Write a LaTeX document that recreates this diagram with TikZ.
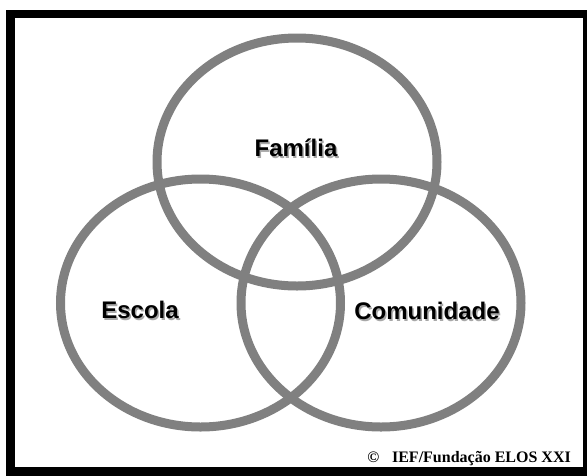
\documentclass[tikz,border=0pt]{standalone}
\usepackage{fontspec}
\setmainfont{Liberation Serif}
\newfontfamily\lsans{Liberation Sans}
\usetikzlibrary{shapes.geometric}
\definecolor{ringgray}{HTML}{808080}
\definecolor{shadowgray}{HTML}{A8A8A8}
\tikzset{
  ring/.style={draw=ringgray, line width=9pt, ellipse, minimum width=280pt, minimum height=248pt, inner sep=0pt},
  lbl/.style={font=\lsans\bfseries\fontsize{24}{28}\selectfont, text=black, inner sep=0pt},
  lblshadow/.style={font=\lsans\bfseries\fontsize{24}{28}\selectfont, text=shadowgray, inner sep=0pt},
  credit/.style={font=\bfseries\fontsize{16}{19}\selectfont, inner sep=0pt, anchor=base east}
}
\begin{document}
\begin{tikzpicture}[x=1pt,y=-1pt]
\useasboundingbox (0,0) rectangle (587,475);
\fill[white] (0,0) rectangle (587,475);
\draw[line width=8.6pt] (10.3,14) rectangle (587.5,471.3);
\node[ring] (fam) at (297,162) {};
\node[ring] (esc) at (200.5,303) {};
\node[ring] (com) at (381,303) {};
\node[lblshadow] (famS) at (297.5,149.5) {Família};
\node[lbl] (famL) at (296,148) {Família};
\node[lblshadow] (escS) at (141.5,311.5) {Escola};
\node[lbl] (escL) at (140,310) {Escola};
\node[lblshadow] (comS) at (428.5,312.5) {Comunidade};
\node[lbl] (comL) at (427,311) {Comunidade};
\node[credit] (cred) at (571,462) {©\hspace{0.8em}IEF/Fundação ELOS XXI};
\end{tikzpicture}
\end{document}
